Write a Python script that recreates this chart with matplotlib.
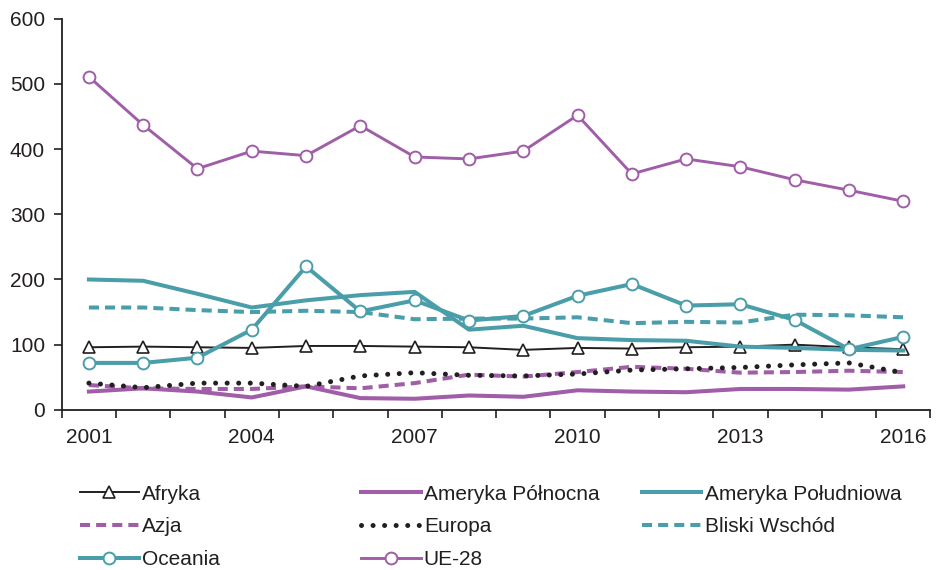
import matplotlib
matplotlib.use("Agg")
import matplotlib.pyplot as plt

plt.rcParams['font.family'] = ['Liberation Sans', 'DejaVu Sans']

years = list(range(2001, 2017))
tick_labels = ["2001", "2004", "2007", "2010", "2013", "2016"]

afryka = [96, 97, 96, 95, 98, 98, 97, 96, 92, 95, 94, 96, 97, 100, 96, 93]
ameryka_pn = [28, 33, 28, 19, 36, 18, 17, 22, 20, 30, 28, 27, 32, 32, 31, 36]
ameryka_pd = [200, 198, 178, 157, 168, 176, 181, 123, 129, 110, 107, 106, 97, 95, 92, 91]
azja = [38, 33, 32, 32, 36, 33, 41, 54, 51, 58, 66, 63, 57, 58, 60, 58]
europa = [41, 34, 41, 41, 36, 52, 57, 53, 52, 55, 61, 63, 65, 69, 72, 57]
bliski = [157, 157, 153, 150, 152, 150, 139, 140, 140, 142, 133, 135, 134, 146, 145, 142]
oceania = [72, 72, 80, 123, 220, 151, 168, 137, 144, 175, 193, 160, 162, 138, 93, 112]
ue28 = [511, 437, 370, 397, 390, 436, 388, 385, 397, 452, 362, 385, 373, 353, 337, 320]

PURPLE = "#A05DA8"
TEAL = "#4A9EA9"
BLACK = "#231F20"
FS = 15

fig = plt.figure(figsize=(9.36, 5.70), dpi=100)
ax = fig.add_axes([0.066, 0.281, 0.928, 0.686])

x = list(range(len(years)))
lw = 2.9
h_afr, = ax.plot(x, afryka, color=BLACK, lw=1.4, marker='^', ms=8, mfc='white', mec=BLACK, mew=1.2, label="Afryka")
h_apn, = ax.plot(x, ameryka_pn, color=PURPLE, lw=lw, label="Ameryka Północna")
h_apd, = ax.plot(x, ameryka_pd, color=TEAL, lw=lw, label="Ameryka Południowa")
h_azj, = ax.plot(x, azja, color=PURPLE, lw=lw, ls=(0, (2.5, 1.5)), label="Azja")
h_eur, = ax.plot(x, europa, color=BLACK, lw=3.6, ls=(0, (0.01, 2.3)), dash_capstyle='round', label="Europa")
h_bli, = ax.plot(x, bliski, color=TEAL, lw=lw, ls=(0, (2.5, 1.5)), label="Bliski Wschód")
h_oce, = ax.plot(x, oceania, color=TEAL, lw=lw, marker='o', ms=8.5, mfc='white', mec=TEAL, mew=1.4, label="Oceania")
h_ue, = ax.plot(x, ue28, color=PURPLE, lw=2.1, marker='o', ms=8.5, mfc='white', mec=PURPLE, mew=1.4, label="UE-28")

ax.set_xlim(-0.5, len(years) - 0.5)
ax.set_ylim(0, 600)
ax.set_yticks(range(0, 601, 100))
ax.set_xticks([i - 0.5 for i in range(len(years) + 1)], minor=False)
ax.set_xticklabels([])
ax.set_xticks([years.index(int(t)) for t in tick_labels], minor=True)
ax.set_xticklabels(tick_labels, minor=True)
ax.tick_params(axis='x', which='minor', length=0, pad=13, labelsize=FS, colors=BLACK)
ax.tick_params(axis='x', which='major', length=6, width=1.2, direction='out', color=BLACK)
ax.tick_params(axis='y', length=6, width=1.2, direction='out', labelsize=FS, color=BLACK, labelcolor=BLACK, pad=6)
for s in ['top', 'right']:
    ax.spines[s].set_visible(False)
for s in ['left', 'bottom']:
    ax.spines[s].set_color(BLACK)
    ax.spines[s].set_linewidth(1.3)

common = dict(frameon=False, fontsize=FS, handlelength=2.85, handletextpad=0.15,
              labelspacing=0.66, borderaxespad=0, borderpad=0)
top = 0.150
leg1 = fig.legend(handles=[h_afr, h_azj, h_oce], loc='upper left', bbox_to_anchor=(0.085, top), **common)
leg2 = fig.legend(handles=[h_apn, h_eur, h_ue], loc='upper left', bbox_to_anchor=(0.386, top), **common)
leg3 = fig.legend(handles=[h_apd, h_bli], loc='upper left', bbox_to_anchor=(0.686, top), **common)
for lg in (leg1, leg2, leg3):
    for t in lg.get_texts():
        t.set_color(BLACK)

fig.savefig("out.png", dpi=100)
